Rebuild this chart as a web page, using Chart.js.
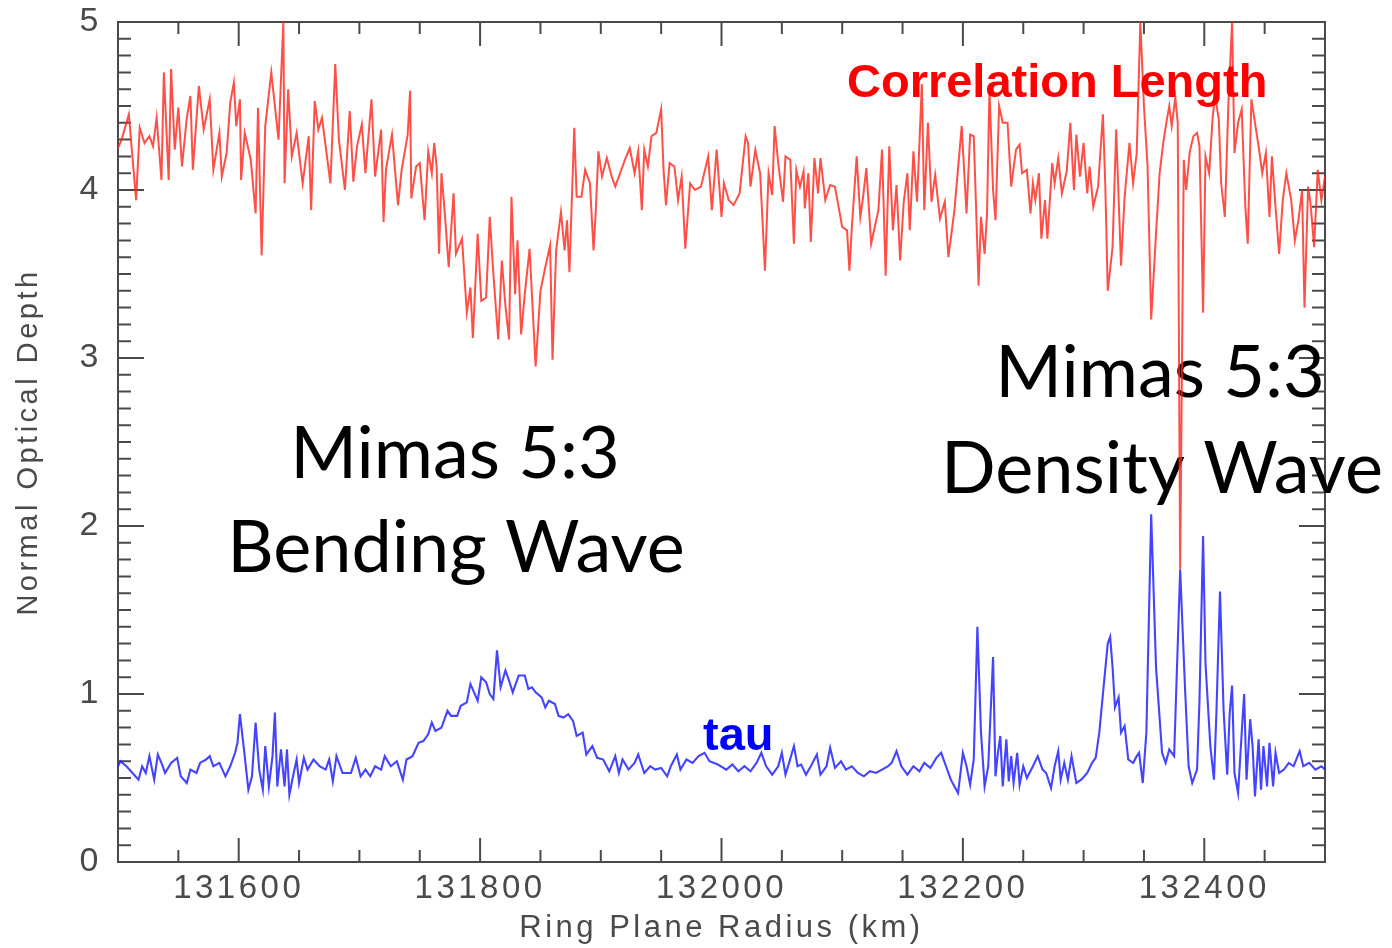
<!DOCTYPE html>
<html>
<head>
<meta charset="utf-8">
<script src="https://cdn.jsdelivr.net/npm/chart.js@4.4.1/dist/chart.umd.min.js"></script>
<style>
  html, body { margin: 0; padding: 0; background: #fff; }
  canvas { display: block; }
</style>
</head>
<body>
<canvas id="c" width="1392" height="948"></canvas>
<script>
// Ring plane radius (km) and depth values.
const redRadius = [
  131500, 131503, 131509, 131515, 131518, 131522, 131526, 131529, 131532, 131536,
  131538, 131542, 131544, 131547, 131550, 131553, 131557, 131560, 131562, 131567,
  131571, 131576, 131579, 131584, 131586, 131590, 131593, 131596, 131598, 131601,
  131602, 131605, 131610, 131614, 131616, 131619, 131622, 131627, 131633, 131637,
  131638, 131641, 131644, 131648, 131653, 131658, 131660, 131663, 131666, 131669,
  131676, 131680, 131683, 131688, 131692, 131695, 131698, 131702, 131705, 131710,
  131713, 131718, 131720, 131722, 131727, 131732, 131735, 131740, 131742, 131743,
  131747, 131750, 131754, 131757, 131760, 131762, 131764, 131766, 131768, 131771,
  131774, 131778, 131780, 131785, 131789, 131792, 131794, 131798, 131801, 131805,
  131808, 131811, 131815, 131818, 131821, 131824, 131826, 131829, 131831, 131834,
  131837, 131841, 131846, 131850, 131854, 131858, 131860, 131863, 131867, 131870,
  131872, 131874, 131878, 131880, 131884, 131887, 131891, 131894, 131896, 131898,
  131901, 131905, 131909, 131912, 131916, 131920, 131924, 131928, 131931, 131934,
  131936, 131939, 131942, 131946, 131950, 131952, 131954, 131957, 131961, 131964,
  131967, 131970, 131974, 131978, 131983, 131989, 131992, 131996, 132000, 132002,
  132006, 132010, 132015, 132020, 132022, 132024, 132028, 132032, 132036, 132039,
  132042, 132044, 132047, 132051, 132053, 132057, 132060, 132062, 132065, 132068,
  132069, 132072, 132074, 132077, 132080, 132082, 132086, 132090, 132094, 132100,
  132104, 132106, 132108, 132112, 132115, 132117, 132120, 132124, 132127, 132130,
  132133, 132136, 132139, 132142, 132145, 132148, 132151, 132154, 132156, 132159,
  132162, 132166, 132168, 132171, 132174, 132177, 132181, 132185, 132188, 132193,
  132199, 132203, 132206, 132209, 132213, 132215, 132218, 132220, 132222, 132225,
  132227, 132230, 132233, 132237, 132240, 132244, 132247, 132249, 132253, 132256,
  132258, 132260, 132263, 132265, 132268, 132270, 132274, 132276, 132279, 132282,
  132286, 132289, 132292, 132294, 132297, 132300, 132303, 132305, 132308, 132312,
  132316, 132318, 132320, 132324, 132327, 132331, 132334, 132338, 132341, 132344,
  132347, 132350, 132353, 132356, 132360, 132363, 132366, 132369, 132371, 132373,
  132376, 132378, 132380, 132383, 132385, 132388, 132391, 132394, 132396, 132399,
  132401, 132404, 132407, 132409, 132412, 132414, 132417, 132420, 132423, 132425,
  132428, 132431, 132434, 132436, 132439, 132442, 132445, 132448, 132451, 132454,
  132456, 132459, 132462, 132465, 132468, 132472, 132475, 132478, 132481, 132483,
  132486, 132488, 132491, 132494, 132497, 132500
];
const redDepth = [
  4.25, 4.30, 4.45, 3.94, 4.37, 4.28, 4.32, 4.26, 4.43, 4.06,
  4.70, 4.06, 4.72, 4.24, 4.49, 4.14, 4.43, 4.56, 4.12, 4.62,
  4.36, 4.54, 4.12, 4.34, 4.08, 4.22, 4.52, 4.64, 4.38, 4.54,
  4.06, 4.34, 4.18, 3.86, 4.49, 3.61, 4.38, 4.70, 4.30, 5.00,
  4.04, 4.60, 4.20, 4.34, 4.04, 4.32, 3.88, 4.53, 4.36, 4.43,
  4.04, 4.75, 4.30, 4.00, 4.47, 4.05, 4.26, 4.39, 4.10, 4.54,
  4.08, 4.36, 3.81, 4.12, 4.33, 3.91, 4.12, 4.33, 4.59, 3.95,
  4.14, 4.16, 3.82, 4.23, 4.10, 4.28, 4.14, 3.62, 4.10, 3.84,
  3.54, 3.98, 3.62, 3.71, 3.27, 3.42, 3.12, 3.74, 3.34, 3.36,
  3.84, 3.50, 3.11, 3.58, 3.31, 3.11, 3.96, 3.38, 3.70, 3.14,
  3.38, 3.65, 2.95, 3.40, 3.54, 3.67, 2.99, 3.64, 3.87, 3.64,
  3.82, 3.51, 4.37, 3.96, 3.96, 4.12, 4.04, 3.64, 3.90, 4.23,
  4.08, 4.19, 4.08, 4.02, 4.10, 4.18, 4.25, 4.10, 4.23, 3.88,
  4.24, 4.14, 4.32, 4.34, 4.48, 4.12, 3.91, 4.16, 4.14, 3.94,
  4.08, 3.65, 4.04, 4.00, 4.02, 4.20, 3.88, 4.24, 3.84, 4.04,
  3.94, 3.91, 3.98, 4.32, 4.28, 4.02, 4.24, 4.10, 3.52, 4.10,
  3.97, 4.38, 4.16, 3.93, 4.20, 4.18, 3.68, 4.12, 4.02, 4.11,
  3.89, 4.10, 3.69, 4.19, 3.98, 4.19, 3.94, 4.03, 4.02, 3.78,
  3.76, 3.52, 3.78, 4.20, 3.84, 3.94, 4.13, 3.68, 3.78, 3.88,
  4.24, 3.49, 4.26, 3.76, 4.03, 3.58, 3.93, 4.10, 3.76, 4.23,
  3.93, 4.63, 3.88, 4.40, 3.93, 4.09, 3.83, 3.93, 3.60, 3.88,
  4.38, 3.86, 4.33, 4.32, 3.43, 3.84, 3.62, 3.86, 4.60, 4.00,
  3.82, 4.50, 4.40, 4.40, 4.02, 4.24, 4.27, 4.10, 4.12, 3.86,
  4.04, 3.94, 4.10, 3.71, 3.94, 3.71, 4.16, 4.04, 4.19, 3.98,
  4.11, 4.40, 4.00, 4.33, 4.08, 4.28, 3.98, 4.14, 3.90, 4.02,
  4.45, 4.02, 3.40, 3.66, 4.36, 3.55, 3.96, 4.28, 4.04, 4.22,
  5.00, 4.50, 4.14, 3.23, 3.74, 4.10, 4.28, 4.42, 4.50, 4.38,
  4.55, 4.40, 1.74, 4.18, 4.00, 4.23, 4.32, 4.34, 4.26, 3.27,
  4.20, 4.10, 4.44, 4.56, 4.42, 4.04, 3.84, 4.52, 5.00, 4.22,
  4.40, 4.48, 3.90, 3.68, 4.54, 4.40, 4.26, 4.10, 4.22, 3.84,
  4.20, 3.90, 3.62, 3.94, 4.10, 3.94, 3.70, 3.82, 4.00, 3.30,
  4.02, 3.92, 3.66, 4.12, 3.94, 4.08
];

const blueRadius = [
  131500, 131502, 131507, 131512, 131517, 131520, 131523, 131526, 131530, 131533,
  131536, 131539, 131544, 131549, 131552, 131557, 131560, 131565, 131568, 131573,
  131576, 131579, 131584, 131589, 131593, 131597, 131599, 131601, 131605, 131608,
  131611, 131614, 131617, 131620, 131622, 131625, 131628, 131630, 131632, 131635,
  131638, 131640, 131642, 131645, 131648, 131650, 131654, 131657, 131662, 131667,
  131672, 131675, 131678, 131681, 131686, 131693, 131697, 131701, 131705, 131709,
  131713, 131718, 131721, 131726, 131731, 131736, 131739, 131744, 131749, 131753,
  131757, 131760, 131763, 131768, 131773, 131776, 131781, 131784, 131789, 131792,
  131795, 131798, 131801, 131805, 131808, 131811, 131814, 131817, 131821, 131824,
  131827, 131832, 131837, 131840, 131843, 131846, 131851, 131854, 131857, 131862,
  131865, 131869, 131873, 131877, 131880, 131885, 131888, 131893, 131897, 131902,
  131907, 131912, 131915, 131918, 131923, 131928, 131931, 131936, 131941, 131945,
  131950, 131955, 131958, 131963, 131966, 131971, 131976, 131981, 131986, 131990,
  131997, 132004, 132009, 132014, 132019, 132024, 132029, 132033, 132037, 132042,
  132047, 132050, 132053, 132056, 132060, 132063, 132066, 132070, 132074, 132079,
  132082, 132087, 132090, 132094, 132099, 132103, 132108, 132113, 132118, 132123,
  132128, 132133, 132138, 132141, 132145, 132149, 132154, 132159, 132164, 132168,
  132173, 132178, 132182, 132186, 132190, 132193, 132196, 132200, 132203, 132206,
  132209, 132212, 132215, 132218, 132221, 132225, 132227, 132229, 132231, 132233,
  132236, 132238, 132240, 132242, 132245, 132247, 132250, 132253, 132258, 132262,
  132266, 132269, 132273, 132276, 132279, 132281, 132284, 132287, 132290, 132294,
  132298, 132303, 132307, 132310, 132313, 132316, 132320, 132322, 132324, 132326,
  132329, 132331, 132334, 132337, 132341, 132344, 132346, 132349, 132352, 132356,
  132360, 132365, 132368, 132371, 132375, 132380, 132384, 132387, 132390, 132394,
  132396, 132399, 132401, 132405, 132408, 132410, 132413, 132416, 132419, 132421,
  132423, 132425, 132428, 132431, 132433, 132435, 132438, 132440, 132442, 132445,
  132447, 132449, 132452, 132454, 132457, 132459, 132462, 132466, 132470, 132474,
  132479, 132482, 132487, 132492, 132497, 132500
];
const blueDepth = [
  0.57, 0.60, 0.57, 0.53, 0.49, 0.57, 0.53, 0.63, 0.49, 0.64,
  0.59, 0.53, 0.59, 0.62, 0.51, 0.47, 0.55, 0.53, 0.59, 0.61,
  0.63, 0.57, 0.59, 0.51, 0.57, 0.65, 0.71, 0.88, 0.63, 0.43,
  0.51, 0.83, 0.55, 0.43, 0.69, 0.45, 0.63, 0.89, 0.45, 0.67,
  0.45, 0.67, 0.40, 0.51, 0.61, 0.47, 0.62, 0.55, 0.61, 0.57,
  0.55, 0.61, 0.48, 0.63, 0.53, 0.53, 0.62, 0.51, 0.55, 0.51,
  0.57, 0.55, 0.63, 0.57, 0.60, 0.49, 0.61, 0.63, 0.71, 0.72,
  0.76, 0.83, 0.78, 0.80, 0.90, 0.87, 0.87, 0.93, 0.95, 1.06,
  1.01, 0.96, 1.10, 1.07, 1.00, 0.97, 1.26, 1.04, 1.14, 1.08,
  1.01, 1.11, 1.11, 1.03, 1.04, 1.01, 0.98, 0.92, 0.96, 0.94,
  0.87, 0.86, 0.88, 0.84, 0.75, 0.77, 0.64, 0.69, 0.62, 0.61,
  0.54, 0.63, 0.53, 0.61, 0.55, 0.59, 0.64, 0.53, 0.57, 0.55,
  0.56, 0.51, 0.57, 0.64, 0.55, 0.61, 0.59, 0.63, 0.65, 0.60,
  0.58, 0.55, 0.58, 0.54, 0.57, 0.54, 0.59, 0.65, 0.57, 0.52,
  0.57, 0.65, 0.52, 0.59, 0.69, 0.57, 0.58, 0.52, 0.57, 0.64,
  0.52, 0.57, 0.68, 0.56, 0.60, 0.55, 0.57, 0.53, 0.51, 0.54,
  0.53, 0.55, 0.57, 0.59, 0.66, 0.57, 0.52, 0.57, 0.54, 0.59,
  0.56, 0.62, 0.65, 0.57, 0.49, 0.45, 0.41, 0.65, 0.57, 0.46,
  0.61, 1.40, 0.77, 0.45, 0.57, 1.22, 0.51, 0.65, 0.75, 0.45,
  0.73, 0.48, 0.63, 0.47, 0.65, 0.46, 0.57, 0.50, 0.57, 0.63,
  0.55, 0.53, 0.44, 0.57, 0.66, 0.49, 0.59, 0.49, 0.63, 0.47,
  0.49, 0.53, 0.59, 0.62, 0.77, 1.00, 1.30, 1.34, 1.16, 0.92,
  0.98, 0.77, 0.81, 0.61, 0.59, 0.63, 0.65, 0.47, 0.77, 2.07,
  1.16, 0.65, 0.59, 0.67, 0.63, 1.74, 1.04, 0.57, 0.47, 0.55,
  0.96, 1.94, 1.18, 0.69, 0.49, 0.88, 1.61, 0.90, 0.52, 0.88,
  1.05, 0.53, 0.41, 0.77, 1.00, 0.49, 0.85, 0.69, 0.39, 0.73,
  0.43, 0.69, 0.45, 0.71, 0.45, 0.65, 0.53, 0.55, 0.59, 0.57,
  0.66, 0.57, 0.59, 0.55, 0.57, 0.55
];

const xTickLabels = [131600, 131800, 132000, 132200, 132400];
const yTickLabels = [0, 1, 2, 3, 4, 5];

const X_MIN = 131500, X_MAX = 132500;
const AXIS_GREY = '#4a4a4a';

const toPoints = (xs, ys) => xs.map((x, i) => ({ x, y: ys[i] }));

// keep the plot box where the scan has it, labels may hang over
const noLabelPadding = (s) => {
  s.paddingTop = 0; s.paddingBottom = 0; s.paddingLeft = 0; s.paddingRight = 0;
};

// box around the plot with inward major/minor ticks on all four sides
const frameTicks = {
  id: 'frameTicks',
  beforeDraw(chart) {
    // the scan's axis text is loosely spaced
    chart.ctx.letterSpacing = '3.5px';
  },
  beforeDatasetsDraw(chart) {
    const { ctx, chartArea: a, scales: { x, y } } = chart;
    ctx.letterSpacing = '0px';
    ctx.save();
    ctx.strokeStyle = AXIS_GREY;
    ctx.lineWidth = 2;
    ctx.strokeRect(a.left, a.top, a.right - a.left, a.bottom - a.top);
    ctx.beginPath();
    for (let v = X_MIN; v <= X_MAX; v += 50) {
      const px = x.getPixelForValue(v);
      const len = v % 200 === 0 ? 24 : 12;
      ctx.moveTo(px, a.bottom); ctx.lineTo(px, a.bottom - len);
      ctx.moveTo(px, a.top); ctx.lineTo(px, a.top + len);
    }
    for (let i = 0; i <= 50; i++) {
      const py = y.getPixelForValue(i / 10);
      const len = i % 10 === 0 ? 26 : 13;
      ctx.moveTo(a.left, py); ctx.lineTo(a.left + len, py);
      ctx.moveTo(a.right, py); ctx.lineTo(a.right - len, py);
    }
    ctx.stroke();

    // big labels sit under the traces
    ctx.fillStyle = '#000';
    ctx.textAlign = 'center';
    ctx.textBaseline = 'alphabetic';
    ctx.font = '72px Lato';
    ctx.fillText('Mimas 5:3', 455, 478);
    ctx.fillText('Bending Wave', 456, 572);
    ctx.fillText('Mimas 5:3', 1160, 397);
    ctx.fillText('Density Wave', 1162, 493);
    ctx.restore();
  },
  afterDatasetsDraw(chart) {
    const { ctx } = chart;
    ctx.save();
    ctx.textAlign = 'left';
    ctx.textBaseline = 'alphabetic';
    ctx.font = 'bold 47px "Liberation Sans", Arial, sans-serif';
    ctx.fillStyle = '#ff0000';
    ctx.fillText('Correlation Length', 847, 97);
    ctx.fillStyle = '#0000ff';
    ctx.fillText('tau', 703, 750);
    ctx.restore();
  }
};

new Chart(document.getElementById('c'), {
  type: 'line',
  data: {
    datasets: [
      {
        label: 'tau',
        data: toPoints(blueRadius, blueDepth),
        borderColor: 'rgba(35, 35, 255, 0.85)',
        borderWidth: 2.1,
        pointRadius: 0,
        tension: 0,
      },
      {
        label: 'Correlation Length',
        data: toPoints(redRadius, redDepth),
        borderColor: 'rgba(255, 35, 25, 0.8)',
        borderWidth: 2,
        pointRadius: 0,
        tension: 0,
      },
    ],
  },
  options: {
    responsive: false,
    devicePixelRatio: 1,
    animation: false,
    layout: { padding: { top: 22, right: 67, left: 0, bottom: 0 } },
    plugins: {
      legend: { display: false },
      tooltip: { enabled: false },
    },
    scales: {
      x: {
        type: 'linear',
        min: X_MIN,
        max: X_MAX,
        afterFit: (s) => { s.height = 86; noLabelPadding(s); },
        afterBuildTicks: (s) => { s.ticks = xTickLabels.map((value) => ({ value })); },
        grid: { display: false, drawTicks: false },
        border: { display: false },
        ticks: {
          color: AXIS_GREY,
          font: { family: '"Liberation Sans", Arial, sans-serif', size: 33 },
          padding: 7,
          maxRotation: 0,
          callback: (v) => String(v),
        },
        title: {
          display: true,
          text: 'Ring Plane Radius (km)',
          color: AXIS_GREY,
          font: { family: '"Liberation Sans", Arial, sans-serif', size: 31 },
          padding: { top: 0, bottom: 1 },
        },
      },
      y: {
        type: 'linear',
        min: 0,
        max: 5,
        afterFit: (s) => { s.width = 118; noLabelPadding(s); },
        afterBuildTicks: (s) => { s.ticks = yTickLabels.map((value) => ({ value })); },
        grid: { display: false, drawTicks: false },
        border: { display: false },
        ticks: {
          color: AXIS_GREY,
          font: { family: '"Liberation Sans", Arial, sans-serif', size: 34 },
          padding: 16,
        },
        title: {
          display: true,
          text: 'Normal Optical Depth',
          color: AXIS_GREY,
          font: { family: '"Liberation Sans", Arial, sans-serif', size: 29 },
          padding: { top: 12, bottom: 0 },
        },
      },
    },
  },
  plugins: [frameTicks],
});
</script>
</body>
</html>
